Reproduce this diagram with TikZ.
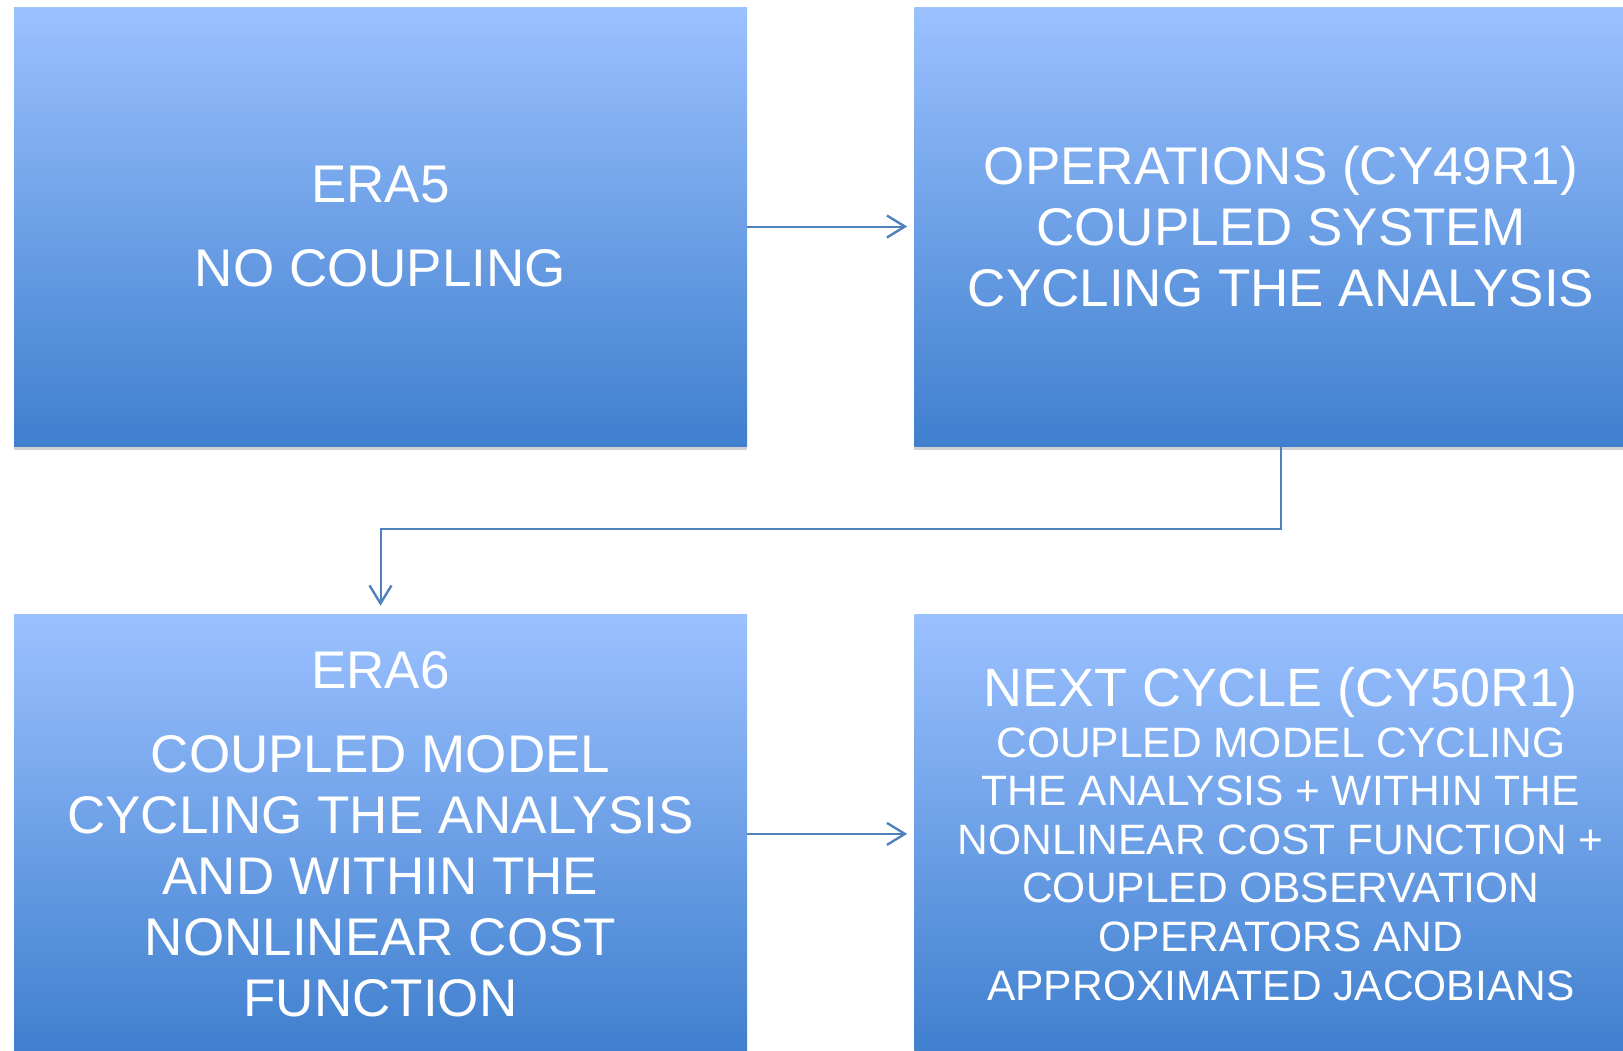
\documentclass[tikz,border=0pt]{standalone}
\usepackage{fontspec}
\setmainfont{Liberation Sans}
\usepackage{xcolor}
\usetikzlibrary{arrows.meta,positioning,shadows}
\definecolor{panL}{HTML}{9BC1FF}
\definecolor{panD}{HTML}{3F7FCE}
\definecolor{arr}{HTML}{4F81BD}
\tikzset{
  panel/.style ={top color=panL, bottom color=panD, draw=none, text=white, align=center,
                 minimum width=733pt, minimum height=439pt, inner sep=0pt,
                 drop shadow={shadow xshift=0pt, shadow yshift=-4pt, opacity=.18, fill=black}},
  big/.style   ={panel, font=\fontsize{53}{61}\selectfont},
  small/.style ={panel, font=\fontsize{42.5}{48.6}\selectfont},
  flow/.style  ={-{Straight Barb[length=18pt,width=22pt,line width=2.4pt]}, line width=2pt,
                 draw=arr, shorten >=7pt},
}
\begin{document}
\begin{tikzpicture}[x=1pt,y=-1pt]
  \useasboundingbox (0,0) rectangle (1623,1050);
  \node[big](era5) at (380.5,226.5){ERA5\\[23pt]NO COUPLING};
  \node[big, right=167pt of era5](ops){OPERATIONS (CY49R1)\\COUPLED SYSTEM\\CYCLING THE ANALYSIS};
  \node[big, below=168pt of era5](era6){ERA6\\[23pt]COUPLED MODEL\\CYCLING THE ANALYSIS\\AND WITHIN THE\\NONLINEAR COST\\FUNCTION};
  \node[small, right=167pt of era6](next){{\fontsize{54}{61}\selectfont NEXT CYCLE (CY50R1)}\\[2pt]
    COUPLED MODEL CYCLING\\THE ANALYSIS + WITHIN THE\\NONLINEAR COST FUNCTION +\\COUPLED OBSERVATION\\OPERATORS AND\\APPROXIMATED JACOBIANS};
  \draw[flow](era5)--(ops);
  \draw[flow](era6)--(next);
  % down from operations, back across to ERA6
  \draw[flow, shorten >=8.5pt](ops.south)--++(0,83)-|(era6.north);
\end{tikzpicture}
\end{document}
